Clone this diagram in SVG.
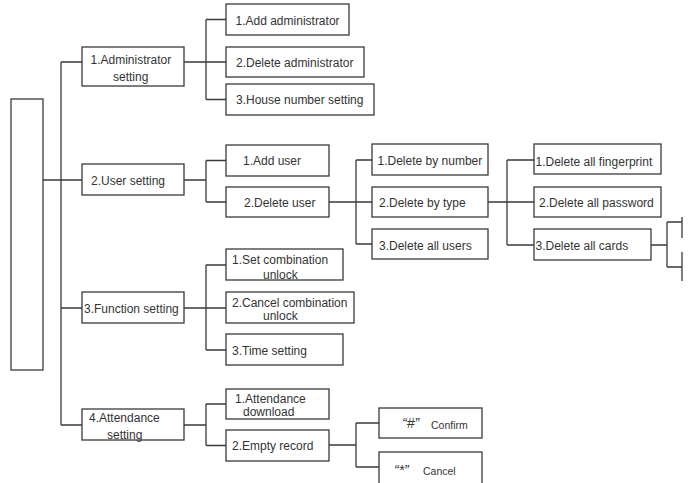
<svg xmlns="http://www.w3.org/2000/svg" width="694" height="483" viewBox="0 0 694 483">
<style>
rect{fill:#fff;stroke:#3a3a3a;stroke-width:1.3}
rect.bg{stroke:none}
.c path{fill:none;stroke:#3a3a3a;stroke-width:1.3}
text{font-family:"Liberation Sans",Arial,sans-serif;font-size:12px;fill:#333}
.s{font-size:10.5px}
.q{font-size:14px;font-style:italic}
</style>
<rect class="bg" width="694" height="483"/>
<g class="c" id="connectors">
<path d="M43 180H82M61 62V425M61 62H82M61 308H82M61 425H82"/>
<path d="M184 62H206M206 19.5V99.5M206 19.5H226M206 62H226M206 99.5H226"/>
<path d="M184 180H206M206 160.5V202M206 160.5H226M206 202H226"/>
<path d="M184 308H206M206 265V350M206 265H226M206 308H226M206 350H226"/>
<path d="M184 425H206M206 404V445.5M206 404H226M206 445.5H226"/>
<path d="M329 202H356M356 160V244M356 160H372M356 202H372M356 244H372"/>
<path d="M488 202H507M507 160V245M507 160H534M507 202H534M507 245H534"/>
<path d="M651 245H667M667 222V267M667 222H682M667 267H682M682 217V238M682 252V281"/>
<path d="M329 445H356M356 423V467M356 423H379M356 467H379"/>
</g>
<g id="root"><rect x="11" y="99" width="32" height="271"/></g>
<g id="admin"><rect x="82" y="47" width="102" height="39"/><text x="90.5" y="63.5">1.Administrator</text><text x="113" y="80.5">setting</text></g>
<g id="user"><rect x="82" y="164" width="102" height="31"/><text x="91" y="185">2.User setting</text></g>
<g id="function"><rect x="82" y="292" width="102" height="31"/><text x="84" y="312.5">3.Function setting</text></g>
<g id="attendance"><rect x="82" y="409" width="102" height="31"/><text x="89" y="422">4.Attendance</text><text x="107" y="438.5">setting</text></g>
<g id="add-admin"><rect x="226" y="4" width="123" height="31"/><text x="235.5" y="24.5">1.Add administrator</text></g>
<g id="del-admin"><rect x="226" y="47" width="138" height="30"/><text x="236" y="67">2.Delete administrator</text></g>
<g id="house"><rect x="226" y="84" width="148" height="31"/><text x="236" y="103.5">3.House number setting</text></g>
<g id="add-user"><rect x="226" y="145" width="103" height="31"/><text x="243" y="165">1.Add user</text></g>
<g id="del-user"><rect x="226" y="187" width="103" height="30"/><text x="244" y="207">2.Delete user</text></g>
<g id="set-combo"><rect x="226" y="249" width="117" height="31"/><text x="232" y="263.5">1.Set combination</text><text x="263" y="278.5">unlock</text></g>
<g id="cancel-combo"><rect x="226" y="292" width="128" height="31"/><text x="232" y="306.5">2.Cancel combination</text><text x="263" y="319.5">unlock</text></g>
<g id="time"><rect x="226" y="334" width="117" height="31"/><text x="232" y="355">3.Time setting</text></g>
<g id="att-download"><rect x="226" y="389" width="103" height="30"/><text x="235" y="402.5">1.Attendance</text><text x="243" y="416">download</text></g>
<g id="empty-record"><rect x="226" y="430" width="103" height="31"/><text x="232" y="450">2.Empty record</text></g>
<g id="del-number"><rect x="372" y="144" width="116" height="31"/><text x="377.5" y="165">1.Delete by number</text></g>
<g id="del-type"><rect x="372" y="187" width="116" height="30"/><text x="379" y="207">2.Delete by type</text></g>
<g id="del-all-users"><rect x="372" y="229" width="116" height="30"/><text x="379" y="250">3.Delete all users</text></g>
<g id="del-fp"><rect x="534" y="144" width="127" height="30"/><text x="535.5" y="166">1.Delete all fingerprint</text></g>
<g id="del-pw"><rect x="534" y="187" width="127" height="30"/><text x="539" y="207">2.Delete all password</text></g>
<g id="del-cards"><rect x="534" y="229" width="117" height="31"/><text x="535.5" y="249.5">3.Delete all cards</text></g>
<g id="confirm"><rect x="379" y="408" width="103" height="30"/><text class="q" x="402" y="428">“#”</text><text class="s" x="431" y="429">Confirm</text></g>
<g id="cancel"><rect x="379" y="452" width="103" height="34"/><text class="q" x="394" y="475">“*”</text><text class="s" x="423" y="475">Cancel</text></g>
</svg>
